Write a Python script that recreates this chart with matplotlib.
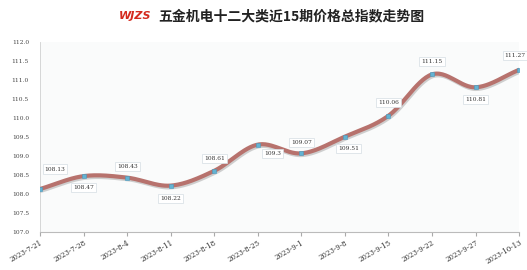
import numpy as np
import matplotlib.pyplot as plt
import matplotlib.patheffects as pe

dates = ['2023-7-21', '2023-7-28', '2023-8-4', '2023-8-11', '2023-8-18', '2023-8-25',
         '2023-9-1', '2023-9-8', '2023-9-15', '2023-9-22', '2023-9-27', '2023-10-13']
values = [108.13, 108.47, 108.43, 108.22, 108.61, 109.3,
          109.07, 109.51, 110.06, 111.15, 110.81, 111.27]
labels = ['108.13', '108.47', '108.43', '108.22', '108.61', '109.3',
          '109.07', '109.51', '110.06', '111.15', '110.81', '111.27']
# label offsets in pixels (dx, dy)
offs = [(15, 20), (0, -11), (0, 11), (0, -13), (0, 12), (15, -9),
        (0, 11), (4, -12), (0, 13), (0, 13), (0, -12), (-4, 14)]

plt.rcParams['font.family'] = ['Noto Sans CJK SC', 'DejaVu Sans']

fig = plt.figure(figsize=(5.27, 2.70), dpi=100)
ax = fig.add_axes([0.076, 0.141, 0.909, 0.703])
ax.set_facecolor('#fafbfb')

x = np.arange(len(values))
y = np.array(values)

# catmull-rom smoothing for drawing the curve
xs, ys = [], []
P = np.column_stack([x, y])
P = np.vstack([P[0] - (P[1] - P[0]), P, P[-1] + (P[-1] - P[-2])])
t = np.linspace(0, 1, 30)
for i in range(1, len(P) - 2):
    p0, p1, p2, p3 = P[i - 1], P[i], P[i + 1], P[i + 2]
    seg = 0.5 * ((2 * p1) + (-p0 + p2) * t[:, None] +
                 (2 * p0 - 5 * p1 + 4 * p2 - p3) * t[:, None] ** 2 +
                 (-p0 + 3 * p1 - 3 * p2 + p3) * t[:, None] ** 3)
    xs.extend(seg[:, 0])
    ys.extend(seg[:, 1])

ax.plot(xs, ys, color='#b7726d', lw=3.0, solid_capstyle='round', zorder=3,
        path_effects=[pe.SimpleLineShadow(offset=(0.8, -1.2), shadow_color='#999999', alpha=0.45),
                      pe.Normal()])
ax.plot(x, y, 's', color='#62b3d3', ms=3.2, mec='#4a9cc0', mew=0.4, zorder=4)

for xi, yi, lab, (dx, dy) in zip(x, y, labels, offs):
    ax.annotate(lab, (xi, yi), xytext=(dx * 0.72, dy * 0.72), textcoords='offset points',
                ha='center', va='center', fontsize=4.2, family='DejaVu Serif', color='#333333',
                bbox=dict(boxstyle='square,pad=0.35', fc='white', ec='#d5dde3', lw=0.5), zorder=5)

ax.set_xlim(0, 11)
ax.set_ylim(107, 112)
ax.set_yticks(np.arange(107, 112.01, 0.5))
ax.set_yticklabels([f'{v:.1f}' for v in np.arange(107, 112.01, 0.5)],
                   family='DejaVu Serif', fontsize=4.2, color='#444444')
ax.set_xticks(x)
ax.set_xticklabels(dates, rotation=30, ha='right', rotation_mode='anchor',
                   family='DejaVu Serif', fontsize=5, color='#333333')
ax.tick_params(axis='y', length=0, pad=8)
ax.tick_params(axis='x', length=3, color='#aaaaaa', pad=2)
for s in ['top', 'right']:
    ax.spines[s].set_visible(False)
ax.spines['left'].set_color('#d0d0d0')
ax.spines['bottom'].set_color('#bbbbbb')
ax.spines['left'].set_linewidth(0.6)
ax.spines['bottom'].set_linewidth(0.8)

fig.text(0.225, 0.94, 'WJZS', color='#d42a1e', fontsize=8, fontweight='bold',
         style='italic', ha='left', va='center', family='DejaVu Sans')
fig.text(0.552, 0.94, '五金机电十二大类近15期价格总指数走势图', fontsize=10, fontweight='bold',
         ha='center', va='center', color='#222222')

fig.savefig('out.png', dpi=100)
